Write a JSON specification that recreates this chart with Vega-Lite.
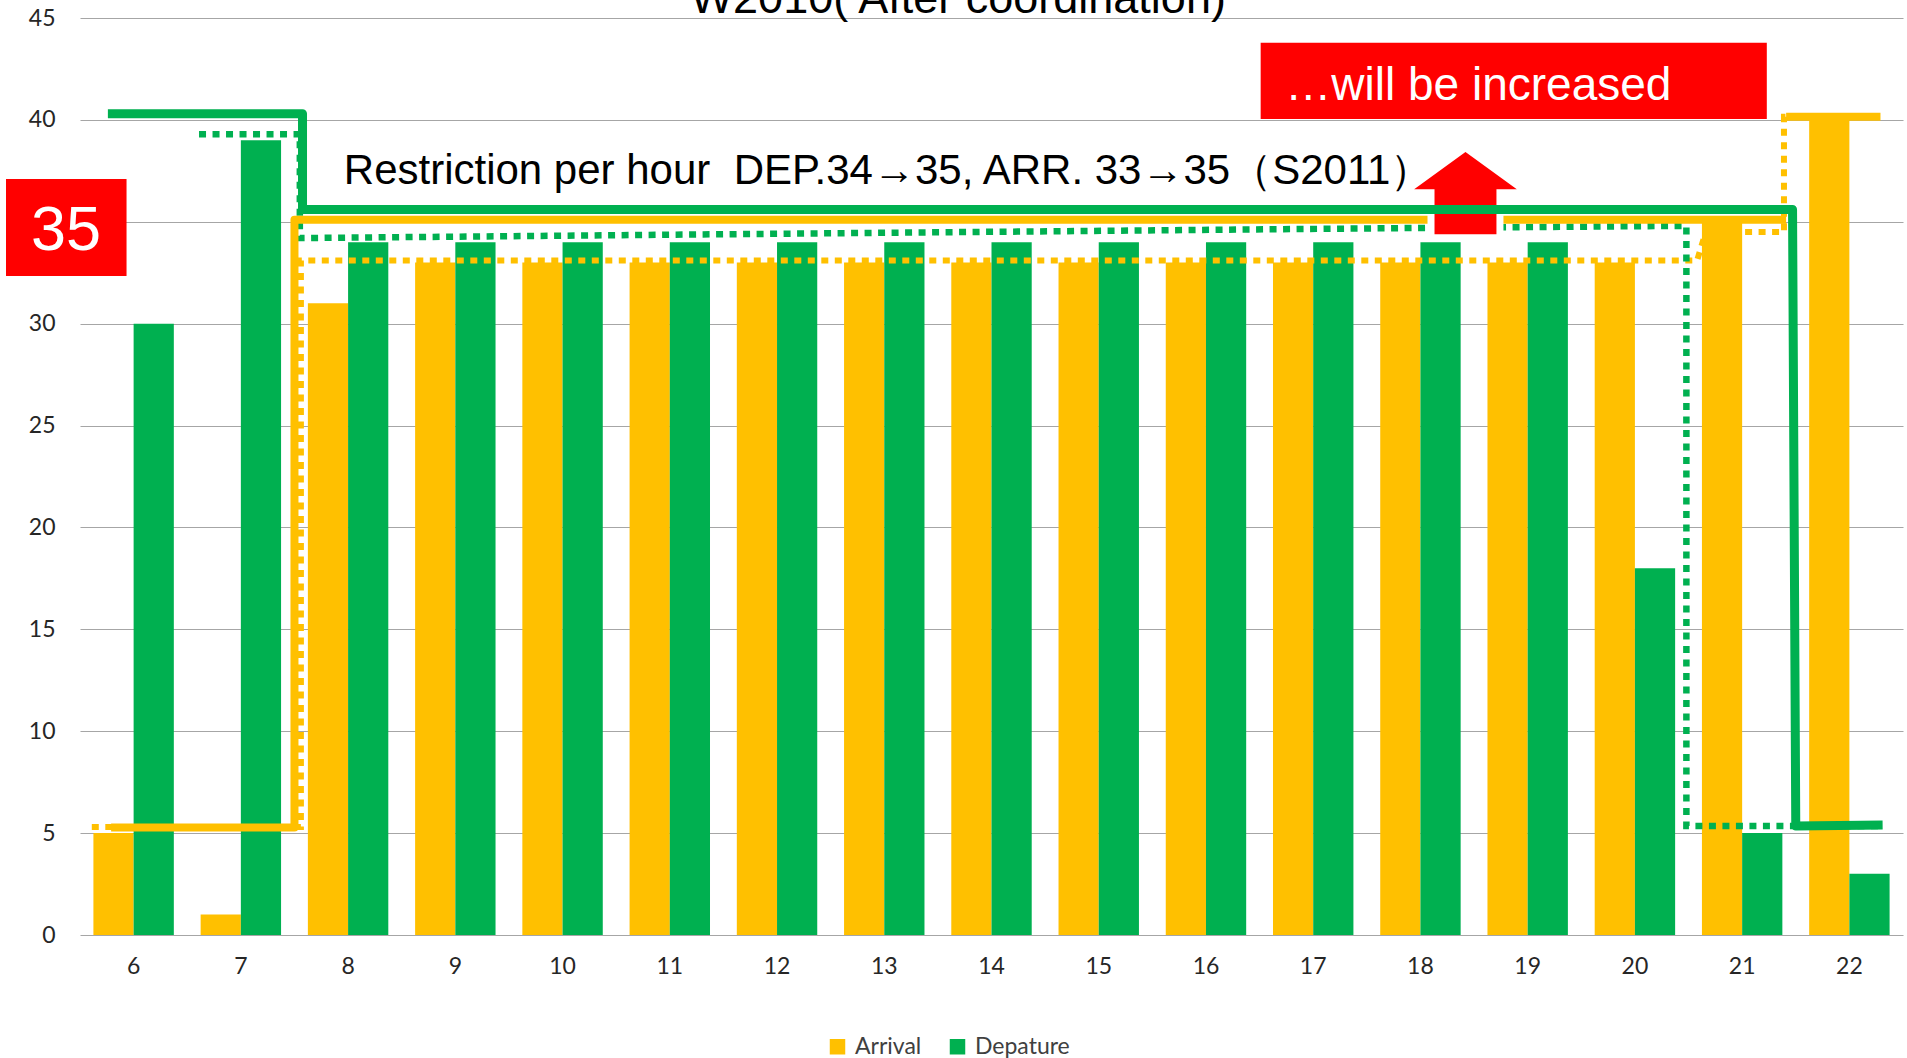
{
  "$schema": "https://vega.github.io/schema/vega-lite/v6.json",
  "width": 1823,
  "height": 917,
  "autosize": {"type": "none"},
  "padding": {"left": 80, "top": 18, "right": 4, "bottom": 123},
  "background": "white",
  "config": {
    "view": {"stroke": null},
    "font": "Lato",
    "axis": {"labelFont": "Lato", "labelColor": "#262626", "labelFontSize": 23}
  },
  "datasets": {
    "bars": [
      {"hour": 6, "series": "Arrival", "value": 5},
      {"hour": 6, "series": "Depature", "value": 30},
      {"hour": 7, "series": "Arrival", "value": 1},
      {"hour": 7, "series": "Depature", "value": 39},
      {"hour": 8, "series": "Arrival", "value": 31},
      {"hour": 8, "series": "Depature", "value": 34},
      {"hour": 9, "series": "Arrival", "value": 33},
      {"hour": 9, "series": "Depature", "value": 34},
      {"hour": 10, "series": "Arrival", "value": 33},
      {"hour": 10, "series": "Depature", "value": 34},
      {"hour": 11, "series": "Arrival", "value": 33},
      {"hour": 11, "series": "Depature", "value": 34},
      {"hour": 12, "series": "Arrival", "value": 33},
      {"hour": 12, "series": "Depature", "value": 34},
      {"hour": 13, "series": "Arrival", "value": 33},
      {"hour": 13, "series": "Depature", "value": 34},
      {"hour": 14, "series": "Arrival", "value": 33},
      {"hour": 14, "series": "Depature", "value": 34},
      {"hour": 15, "series": "Arrival", "value": 33},
      {"hour": 15, "series": "Depature", "value": 34},
      {"hour": 16, "series": "Arrival", "value": 33},
      {"hour": 16, "series": "Depature", "value": 34},
      {"hour": 17, "series": "Arrival", "value": 33},
      {"hour": 17, "series": "Depature", "value": 34},
      {"hour": 18, "series": "Arrival", "value": 33},
      {"hour": 18, "series": "Depature", "value": 34},
      {"hour": 19, "series": "Arrival", "value": 33},
      {"hour": 19, "series": "Depature", "value": 34},
      {"hour": 20, "series": "Arrival", "value": 33},
      {"hour": 20, "series": "Depature", "value": 18},
      {"hour": 21, "series": "Arrival", "value": 35},
      {"hour": 21, "series": "Depature", "value": 5},
      {"hour": 22, "series": "Arrival", "value": 40},
      {"hour": 22, "series": "Depature", "value": 3}
    ],
    "lines": [
      {"line": "oldARR", "seg": "a", "o": 1, "h": 5.61, "v": 5.3},
      {"line": "oldARR", "seg": "a", "o": 2, "h": 7.56, "v": 5.3},
      {"line": "oldARR", "seg": "a", "o": 3, "h": 7.56, "v": 33.1},
      {"line": "oldARR", "seg": "a", "o": 4, "h": 20.58, "v": 33.1},
      {"line": "oldARR", "seg": "a", "o": 5, "h": 20.66, "v": 34.5},
      {"line": "oldARR", "seg": "a", "o": 6, "h": 21.39, "v": 34.5},
      {"line": "oldARR", "seg": "a", "o": 7, "h": 21.39, "v": 40.15},
      {"line": "oldARR", "seg": "a", "o": 8, "h": 22.29, "v": 40.15},
      {"line": "oldDEP", "seg": "a", "o": 1, "h": 6.61, "v": 39.3},
      {"line": "oldDEP", "seg": "a", "o": 2, "h": 7.55, "v": 39.3},
      {"line": "oldDEP", "seg": "a", "o": 3, "h": 7.55, "v": 34.2},
      {"line": "oldDEP", "seg": "a", "o": 4, "h": 18.05, "v": 34.7},
      {"line": "oldDEP", "seg": "a", "o": 5, "h": 20.48, "v": 34.8},
      {"line": "oldDEP", "seg": "a", "o": 6, "h": 20.48, "v": 5.35},
      {"line": "oldDEP", "seg": "a", "o": 7, "h": 22.27, "v": 5.35},
      {"line": "newARR", "seg": "a", "o": 1, "h": 5.79, "v": 5.27},
      {"line": "newARR", "seg": "a", "o": 2, "h": 7.5, "v": 5.27},
      {"line": "newARR", "seg": "a", "o": 3, "h": 7.5, "v": 35.1},
      {"line": "newARR", "seg": "a", "o": 4, "h": 21.41, "v": 35.1},
      {"line": "newARR", "seg": "b", "o": 5, "h": 21.41, "v": 40.15},
      {"line": "newARR", "seg": "b", "o": 6, "h": 22.29, "v": 40.15},
      {"line": "newDEP", "seg": "a", "o": 1, "h": 5.76, "v": 40.3},
      {"line": "newDEP", "seg": "a", "o": 2, "h": 7.575, "v": 40.3},
      {"line": "newDEP", "seg": "a", "o": 3, "h": 7.575, "v": 35.6},
      {"line": "newDEP", "seg": "a", "o": 4, "h": 21.47, "v": 35.6},
      {"line": "newDEP", "seg": "a", "o": 5, "h": 21.5, "v": 5.35},
      {"line": "newDEP", "seg": "a", "o": 6, "h": 22.31, "v": 5.4}
    ],
    "boxes": [
      {"name": "increase", "x1": 16.51, "x2": 21.23, "y1": 40.04, "y2": 43.79},
      {"name": "35", "x1": 4.81, "x2": 5.934, "y1": 32.34, "y2": 37.1}
    ],
    "arrow": [{"h": 18.42, "v": 36.43}],
    "texts": [
      {"id": "title", "label": "W2010( After coordination)", "h": 13.69, "v": 45.24},
      {"id": "restr", "label": "Restriction per hour \u00a0DEP.34→35, ARR. 33→35（S2011）", "h": 7.96, "v": 36.85},
      {"id": "inc", "label": "…will be increased", "h": 16.74, "v": 41.0},
      {"id": "n35", "label": "35", "h": 5.369, "v": 33.61}
    ]
  },
  "layer": [
    {
      "data": {"name": "bars"},
      "mark": {"type": "bar"},
      "encoding": {
        "x": {
          "field": "hour", "type": "ordinal",
          "scale": {"paddingInner": 0.25, "paddingOuter": 0.125},
          "axis": {"title": null, "labelAngle": 0, "domain": false, "ticks": false, "labelPadding": 20, "grid": false}
        },
        "xOffset": {"field": "series", "type": "nominal", "sort": ["Arrival", "Depature"], "scale": {"paddingInner": 0, "paddingOuter": 0}},
        "y": {
          "field": "value", "type": "quantitative",
          "scale": {"domain": [0, 45], "nice": false},
          "axis": {"title": null, "values": [0, 5, 10, 15, 20, 25, 30, 35, 40, 45], "domain": false, "ticks": false, "labelPadding": 25, "grid": true, "gridColor": "#a6a6a6", "gridWidth": 1.2}
        },
        "color": {
          "field": "series", "type": "nominal",
          "scale": {"domain": ["Arrival", "Depature"], "range": ["#FFC000", "#00B050"]},
          "legend": {
            "title": null, "orient": "none", "legendX": 746, "legendY": 1017, "direction": "horizontal",
            "symbolType": "square", "symbolSize": 240, "symbolStrokeWidth": 0,
            "labelFontSize": 23, "labelFont": "Lato", "labelColor": "#404040", "labelOffset": 6, "columnPadding": 24
          }
        }
      }
    },
    {
      "data": {"name": "lines"},
      "transform": [{"filter": "datum.line === 'oldARR'"}],
      "mark": {"type": "line", "color": "#FFC000", "strokeWidth": 6, "strokeDash": [7, 6.5], "strokeCap": "butt"},
      "encoding": {
        "x": {"field": "h", "type": "quantitative", "scale": {"domain": [5.5, 22.5], "nice": false, "zero": false}, "axis": null},
        "y": {"field": "v", "type": "quantitative", "scale": {"domain": [0, 45], "nice": false}},
        "detail": {"field": "seg"},
        "order": {"field": "o"}
      }
    },
    {
      "data": {"name": "lines"},
      "transform": [{"filter": "datum.line === 'oldDEP'"}],
      "mark": {"type": "line", "color": "#00B050", "strokeWidth": 6.5, "strokeDash": [7, 6.5], "strokeCap": "butt"},
      "encoding": {
        "x": {"field": "h", "type": "quantitative", "scale": {"domain": [5.5, 22.5], "nice": false, "zero": false}, "axis": null},
        "y": {"field": "v", "type": "quantitative", "scale": {"domain": [0, 45], "nice": false}},
        "detail": {"field": "seg"},
        "order": {"field": "o"}
      }
    },
    {
      "data": {"name": "lines"},
      "transform": [{"filter": "datum.line === 'newARR'"}],
      "mark": {"type": "line", "color": "#FFC000", "strokeWidth": 8, "strokeJoin": "round"},
      "encoding": {
        "x": {"field": "h", "type": "quantitative", "scale": {"domain": [5.5, 22.5], "nice": false, "zero": false}, "axis": null},
        "y": {"field": "v", "type": "quantitative", "scale": {"domain": [0, 45], "nice": false}},
        "detail": {"field": "seg"},
        "order": {"field": "o"}
      }
    },
    {
      "data": {"name": "arrow"},
      "mark": {
        "type": "point", "filled": true, "fill": "#FF0000", "fillOpacity": 1, "stroke": "white", "strokeWidth": 7, "strokeOpacity": 1, "opacity": 1,
        "size": 15376,
        "shape": "M 0 -0.726 L 1 0 L 0.556 0 L 0.556 0.726 L -0.556 0.726 L -0.556 0 L -1 0 Z"
      },
      "encoding": {
        "x": {"field": "h", "type": "quantitative", "scale": {"domain": [5.5, 22.5], "nice": false, "zero": false}, "axis": null},
        "y": {"field": "v", "type": "quantitative", "scale": {"domain": [0, 45], "nice": false}}
      }
    },
    {
      "data": {"name": "lines"},
      "transform": [{"filter": "datum.line === 'newDEP'"}],
      "mark": {"type": "line", "color": "#00B050", "strokeWidth": 9, "strokeJoin": "round"},
      "encoding": {
        "x": {"field": "h", "type": "quantitative", "scale": {"domain": [5.5, 22.5], "nice": false, "zero": false}, "axis": null},
        "y": {"field": "v", "type": "quantitative", "scale": {"domain": [0, 45], "nice": false}},
        "detail": {"field": "seg"},
        "order": {"field": "o"}
      }
    },
    {
      "data": {"name": "boxes"},
      "mark": {"type": "rect", "color": "#FF0000"},
      "encoding": {
        "x": {"field": "x1", "type": "quantitative", "scale": {"domain": [5.5, 22.5], "nice": false, "zero": false}, "axis": null},
        "x2": {"field": "x2"},
        "y": {"field": "y1", "type": "quantitative", "scale": {"domain": [0, 45], "nice": false}},
        "y2": {"field": "y2"}
      }
    },
    {
      "data": {"name": "texts"},
      "transform": [{"filter": "datum.id === 'title'"}],
      "mark": {"type": "text", "font": "Liberation Sans", "fontSize": 45, "color": "black", "align": "center", "baseline": "alphabetic"},
      "encoding": {
        "x": {"field": "h", "type": "quantitative", "scale": {"domain": [5.5, 22.5], "nice": false, "zero": false}, "axis": null},
        "y": {"field": "v", "type": "quantitative", "scale": {"domain": [0, 45], "nice": false}},
        "text": {"field": "label"}
      }
    },
    {
      "data": {"name": "texts"},
      "transform": [{"filter": "datum.id === 'restr'"}],
      "mark": {"type": "text", "font": "Liberation Sans", "fontSize": 42, "color": "black", "align": "left", "baseline": "alphabetic"},
      "encoding": {
        "x": {"field": "h", "type": "quantitative", "scale": {"domain": [5.5, 22.5], "nice": false, "zero": false}, "axis": null},
        "y": {"field": "v", "type": "quantitative", "scale": {"domain": [0, 45], "nice": false}},
        "text": {"field": "label"}
      }
    },
    {
      "data": {"name": "texts"},
      "transform": [{"filter": "datum.id === 'inc'"}],
      "mark": {"type": "text", "font": "Liberation Sans", "fontSize": 46, "color": "white", "align": "left", "baseline": "alphabetic"},
      "encoding": {
        "x": {"field": "h", "type": "quantitative", "scale": {"domain": [5.5, 22.5], "nice": false, "zero": false}, "axis": null},
        "y": {"field": "v", "type": "quantitative", "scale": {"domain": [0, 45], "nice": false}},
        "text": {"field": "label"}
      }
    },
    {
      "data": {"name": "texts"},
      "transform": [{"filter": "datum.id === 'n35'"}],
      "mark": {"type": "text", "font": "Liberation Sans", "fontSize": 63, "color": "white", "align": "center", "baseline": "alphabetic"},
      "encoding": {
        "x": {"field": "h", "type": "quantitative", "scale": {"domain": [5.5, 22.5], "nice": false, "zero": false}, "axis": null},
        "y": {"field": "v", "type": "quantitative", "scale": {"domain": [0, 45], "nice": false}},
        "text": {"field": "label"}
      }
    }
  ],
  "resolve": {"scale": {"x": "independent"}}
}
